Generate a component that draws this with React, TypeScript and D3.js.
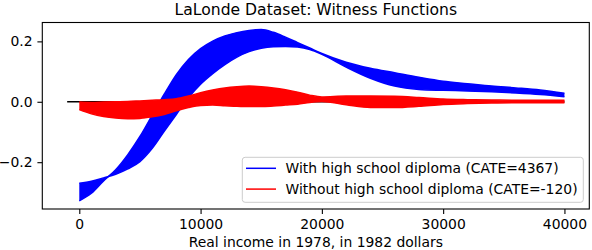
import React, { useEffect, useRef } from "react";
import * as d3 from "d3";

// real income in 1978 (1982 dollars), sample grid of the witness curves
const income = [
  0, 1000, 2000, 3000, 4000, 5000, 6000, 7000, 8000, 9000, 10000,
  11000, 12000, 13000, 14000, 15000, 16000, 17000, 18000, 19000, 20000,
  22000, 24000, 26000, 28000, 30000, 32000, 34000, 36000, 38000, 40000,
];

// with high school diploma: the two outer curves of the blue bundle
const diplomaEdgeA = [
  -0.328, -0.303, -0.262, -0.225, -0.175, -0.115, -0.045, 0.025, 0.09, 0.14, 0.176,
  0.201, 0.218, 0.229, 0.236, 0.239, 0.23, 0.214, 0.196, 0.178, 0.16,
  0.131, 0.111, 0.096, 0.081, 0.068, 0.06, 0.052, 0.046, 0.039, 0.028,
];
const diplomaEdgeB = [
  -0.27, -0.263, -0.252, -0.24, -0.222, -0.198, -0.155, -0.098, -0.042, 0.013, 0.058,
  0.093, 0.123, 0.148, 0.166, 0.177, 0.182, 0.183, 0.181, 0.173, 0.157,
  0.115, 0.078, 0.052, 0.041, 0.038, 0.036, 0.033, 0.029, 0.024, 0.017,
];

// without high school diploma: outer curves of the red bundle
const noDiplomaTop = [
  -0.001, -0.002, -0.001, 0.0, 0.001, 0.003, 0.005, 0.007, 0.01, 0.019, 0.03,
  0.039, 0.046, 0.05, 0.052, 0.05, 0.046, 0.04, 0.032, 0.022, 0.016,
  0.019, 0.019, 0.018, 0.014, 0.009, 0.007, 0.006, 0.005, 0.005, 0.005,
];
const noDiplomaBottom = [
  -0.026, -0.04, -0.049, -0.054, -0.056, -0.055, -0.05, -0.042, -0.03, -0.019, -0.012,
  -0.011, -0.013, -0.015, -0.016, -0.016, -0.014, -0.011, -0.008, -0.002, 0.001,
  -0.01, -0.019, -0.019, -0.015, -0.009, -0.006, -0.004, -0.003, -0.003, -0.003,
];

const zeroLine = [-1000, 40000];
const xTicks = [0, 10000, 20000, 30000, 40000];
const yTicks = [-0.2, 0.0, 0.2];
const legendLabels = [
  "With high school diploma (CATE=4367)",
  "Without high school diploma (CATE=-120)",
];
const colors = ["#0000ff", "#ff0000"];

const W = 592, H = 250;
const FONT = "DejaVu Sans, sans-serif";

export default function App() {
  const ref = useRef<SVGSVGElement>(null);

  useEffect(() => {
    const svg = d3.select(ref.current);
    svg.selectAll("*").remove();

    const left = 42.3, right = 589.3, top = 22.5, bottom = 209;
    const x = d3.scaleLinear().domain([-3050, 42050]).range([left, right]);
    const y = d3.scaleLinear().domain([-0.355, 0.2625]).range([bottom, top]);

    const plot = svg.append("g");

    plot.append("line")
      .attr("x1", x(zeroLine[0])).attr("x2", x(zeroLine[1]))
      .attr("y1", y(0)).attr("y2", y(0))
      .attr("stroke", "black").attr("stroke-width", 1.5);

    const bands = [
      { a: diplomaEdgeA, b: diplomaEdgeB, color: colors[0] },
      { a: noDiplomaTop, b: noDiplomaBottom, color: colors[1] },
    ];

    bands.forEach(({ a, b, color }) => {
      const area = d3.area<number>()
        .x((d, i) => x(income[i]))
        .y0((d, i) => y(a[i]))
        .y1((d, i) => y(b[i]))
        .curve(d3.curveMonotoneX);
      plot.append("path")
        .attr("d", area(income))
        .attr("fill", color);

      [a, b].forEach(series => {
        const line = d3.line<number>()
          .x((d, i) => x(income[i]))
          .y(d => y(d))
          .curve(d3.curveMonotoneX);
        plot.append("path")
          .attr("d", line(series))
          .attr("fill", "none")
          .attr("stroke", color)
          .attr("stroke-width", 1.5);
      });
    });

    // frame
    svg.append("rect")
      .attr("x", left).attr("y", top)
      .attr("width", right - left).attr("height", bottom - top)
      .attr("fill", "none").attr("stroke", "black").attr("stroke-width", 1.1);

    const xAxis = svg.append("g")
      .attr("transform", `translate(0,${bottom})`)
      .call(d3.axisBottom(x).tickValues(xTicks).tickFormat(d3.format("d")).tickSize(4.9).tickPadding(4.9));
    const yAxis = svg.append("g")
      .attr("transform", `translate(${left},0)`)
      .call(d3.axisLeft(y).tickValues(yTicks).tickFormat(d3.format(".1f")).tickSize(4.9).tickPadding(4.9));

    [xAxis, yAxis].forEach(g => {
      g.select(".domain").remove();
      g.selectAll("line").attr("stroke", "black").attr("stroke-width", 1.1);
      g.selectAll("text").attr("fill", "black").style("font-family", FONT).style("font-size", "13.9px");
    });

    svg.append("text")
      .attr("x", (left + right) / 2).attr("y", 14.6)
      .attr("text-anchor", "middle")
      .style("font-family", FONT).style("font-size", "15.6px")
      .text("LaLonde Dataset: Witness Functions");

    svg.append("text")
      .attr("x", (left + right) / 2).attr("y", 247)
      .attr("text-anchor", "middle")
      .style("font-family", FONT).style("font-size", "13.9px")
      .text("Real income in 1978, in 1982 dollars");

    // legend
    const legend = svg.append("g");
    legend.append("rect")
      .attr("x", 242.3).attr("y", 157.3)
      .attr("width", 341).attr("height", 45)
      .attr("rx", 2.8)
      .attr("fill", "white").attr("fill-opacity", 0.8)
      .attr("stroke", "#cccccc").attr("stroke-width", 1);

    legendLabels.forEach((label, i) => {
      const cy = 168.3 + i * 20.8;
      legend.append("line")
        .attr("x1", 246).attr("x2", 276)
        .attr("y1", cy).attr("y2", cy)
        .attr("stroke", colors[i]).attr("stroke-width", 1.5);
      legend.append("text")
        .attr("x", 285.5).attr("y", cy + 5)
        .style("font-family", FONT).style("font-size", "13.9px")
        .text(label);
    });
  }, []);

  return (
    <svg ref={ref} width={W} height={H}
      style={{ position: "absolute", left: 0, top: 0, background: "white" }} />
  );
}
